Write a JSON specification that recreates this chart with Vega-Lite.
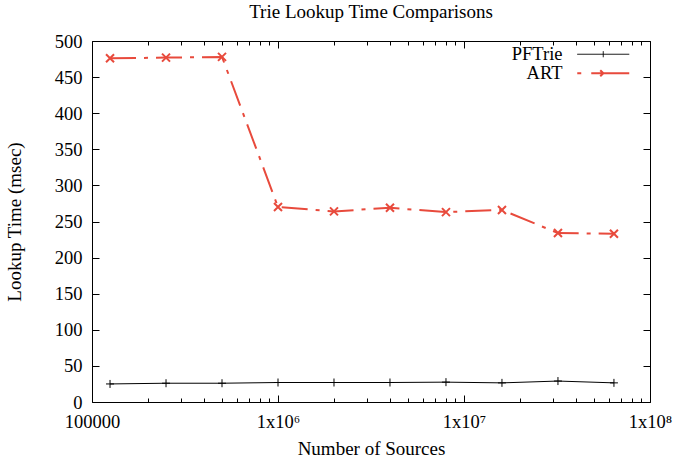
{
  "$schema": "https://vega.github.io/schema/vega-lite/v6.json",
  "width": 558,
  "height": 361,
  "autosize": "none",
  "padding": {"left": 92, "top": 41, "right": 23, "bottom": 60},
  "title": {"text": "Trie Lookup Time Comparisons", "font": "Liberation Serif", "fontSize": 19, "fontWeight": "normal", "color": "#000", "offset": 10, "anchor": "middle"},
  "config": {
    "view": {"stroke": "#000", "strokeWidth": 1},
    "axis": {"labelFont": "Liberation Serif", "titleFont": "Liberation Serif", "labelFontSize": 18.5, "titleFontSize": 19, "titleFontWeight": "normal", "labelColor": "#000", "titleColor": "#000", "tickColor": "#000", "domain": false, "grid": false, "tickSize": -7, "labelPadding": 17},
    "legend": {"labelFont": "Liberation Serif", "labelFontSize": 18.5, "labelColor": "#000"}
  },
  "data": {"values": [
    {"n": 125000, "series": "PFTrie", "t": 25},
    {"n": 250000, "series": "PFTrie", "t": 26},
    {"n": 500000, "series": "PFTrie", "t": 26},
    {"n": 1000000, "series": "PFTrie", "t": 27},
    {"n": 2000000, "series": "PFTrie", "t": 27},
    {"n": 4000000, "series": "PFTrie", "t": 27},
    {"n": 8000000, "series": "PFTrie", "t": 27.5},
    {"n": 16000000, "series": "PFTrie", "t": 26.5},
    {"n": 32000000, "series": "PFTrie", "t": 29},
    {"n": 64000000, "series": "PFTrie", "t": 26.5},
    {"n": 125000, "series": "ART", "t": 476},
    {"n": 250000, "series": "ART", "t": 477},
    {"n": 500000, "series": "ART", "t": 478},
    {"n": 1000000, "series": "ART", "t": 270},
    {"n": 2000000, "series": "ART", "t": 264},
    {"n": 4000000, "series": "ART", "t": 269},
    {"n": 8000000, "series": "ART", "t": 263},
    {"n": 16000000, "series": "ART", "t": 266},
    {"n": 32000000, "series": "ART", "t": 234},
    {"n": 64000000, "series": "ART", "t": 233}
  ]},
  "resolve": {"axis": {"x": "independent", "y": "independent"}},
  "layer": [
    {
      "transform": [{"filter": "datum.series == 'PFTrie'"}],
      "mark": {"type": "line", "strokeWidth": 1},
      "encoding": {
        "x": {"field": "n", "type": "quantitative", "scale": {"type": "log", "domain": [100000, 100000000], "nice": false},
          "axis": {"orient": "bottom", "values": [100000, 1000000, 10000000, 100000000], "labelExpr": "datum.value < 500000 ? '100000' : datum.value < 5000000 ? '1x10⁶' : datum.value < 50000000 ? '1x10⁷' : '1x10⁸'", "labelFlush": false, "labelOverlap": false, "title": "Number of Sources", "titlePadding": 9}},
        "y": {"field": "t", "type": "quantitative", "scale": {"domain": [0, 500], "nice": false},
          "axis": {"orient": "left", "values": [0, 50, 100, 150, 200, 250, 300, 350, 400, 450, 500], "title": "Lookup Time (msec)", "titlePadding": 30}},
        "color": {"field": "series", "type": "nominal", "scale": {"domain": ["PFTrie", "ART"], "range": ["#000000", "#e84a3c"]},
          "legend": {"title": null, "orient": "none", "legendX": 502, "legendY": 4, "symbolType": "M-5.2,0L5.2,0", "symbolSize": 100, "labelAlign": "right", "labelOffset": -50, "rowPadding": 0,
            "encode": {"symbols": {"update": {
              "shape": {"signal": "datum.value == 'ART' ? 'M-0.6,-0.6L0.6,0.6M-0.6,0.6L0.6,-0.6M-5.2,0L5.2,0' : 'M0,-0.6L0,0.6M-5.2,0L5.2,0'"},
              "strokeDash": {"signal": "datum.value == 'ART' ? [4,10,100] : [1,0]"},
              "strokeWidth": {"signal": "datum.value == 'ART' ? 2 : 1"}
            }}}}}
      }
    },
    {
      "transform": [{"filter": "datum.series == 'ART'"}],
      "mark": {"type": "line", "strokeWidth": 2, "strokeDash": [26, 8, 4, 8]},
      "encoding": {
        "x": {"field": "n", "type": "quantitative", "axis": null},
        "y": {"field": "t", "type": "quantitative", "axis": null},
        "color": {"field": "series", "type": "nominal", "legend": null}
      }
    },
    {
      "transform": [{"filter": "datum.series == 'PFTrie'"}],
      "mark": {"type": "point", "filled": false, "size": 64, "opacity": 1, "shape": "M-1,0L1,0M0,-1L0,1", "color": "#000000", "strokeWidth": 1},
      "encoding": {
        "x": {"field": "n", "type": "quantitative", "axis": null},
        "y": {"field": "t", "type": "quantitative", "axis": null}
      }
    },
    {
      "transform": [{"filter": "datum.series == 'ART'"}],
      "mark": {"type": "point", "filled": false, "size": 64, "opacity": 1, "shape": "M-1,-1L1,1M-1,1L1,-1", "color": "#e84a3c", "strokeWidth": 2},
      "encoding": {
        "x": {"field": "n", "type": "quantitative", "axis": null},
        "y": {"field": "t", "type": "quantitative", "axis": null}
      }
    },
    {
      "mark": {"type": "point", "opacity": 0},
      "encoding": {
        "x": {"field": "n", "type": "quantitative", "axis": {"orient": "top", "values": [100000, 1000000, 10000000, 100000000], "labels": false, "title": null}},
        "y": {"field": "t", "type": "quantitative", "axis": {"orient": "right", "values": [0, 50, 100, 150, 200, 250, 300, 350, 400, 450, 500], "labels": false, "title": null}}
      }
    },
    {
      "mark": {"type": "point", "opacity": 0},
      "encoding": {
        "x": {"field": "n", "type": "quantitative", "axis": {"orient": "bottom", "values": [200000, 300000, 400000, 500000, 600000, 700000, 800000, 900000, 2000000, 3000000, 4000000, 5000000, 6000000, 7000000, 8000000, 9000000, 20000000, 30000000, 40000000, 50000000, 60000000, 70000000, 80000000, 90000000], "labels": false, "title": null, "tickSize": -4}}
      }
    },
    {
      "mark": {"type": "point", "opacity": 0},
      "encoding": {
        "x": {"field": "n", "type": "quantitative", "axis": {"orient": "top", "values": [200000, 300000, 400000, 500000, 600000, 700000, 800000, 900000, 2000000, 3000000, 4000000, 5000000, 6000000, 7000000, 8000000, 9000000, 20000000, 30000000, 40000000, 50000000, 60000000, 70000000, 80000000, 90000000], "labels": false, "title": null, "tickSize": -4}}
      }
    }
  ]
}
